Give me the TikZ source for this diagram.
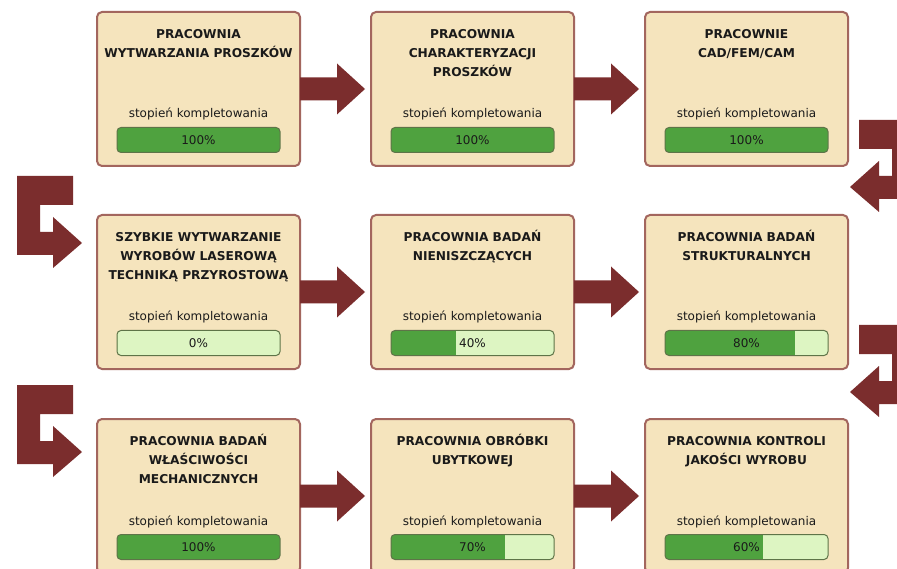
\documentclass[tikz,border=0pt]{standalone}
\usepackage{fontspec}
\setmainfont{DejaVu Sans}
\usetikzlibrary{calc}
\definecolor{boxfill}{HTML}{F5E4BD}
\definecolor{boxline}{HTML}{A3665E}
\definecolor{arrowc}{HTML}{7B2D2D}
\definecolor{barfg}{HTML}{4FA23F}
\definecolor{barbg}{HTML}{DDF5C2}
\definecolor{barline}{HTML}{5E7448}
\definecolor{txt}{HTML}{1A1A1A}
\tikzset{
  stationbox/.style={draw=boxline, line width=2pt, fill=boxfill, rounded corners=5pt,
    minimum width=203pt, minimum height=154pt, inner sep=0pt, outer sep=0pt},
  titletext/.style={anchor=north, align=center, inner sep=0pt, text=txt,
    font=\fontsize{12.2}{19}\selectfont\bfseries},
  captext/.style={anchor=base, inner sep=0pt, text=txt, font=\fontsize{12}{14}\selectfont},
  pcttext/.style={anchor=base, inner sep=0pt, text=txt, font=\fontsize{12}{14}\selectfont},
  barnode/.style={fill=barbg, draw=none, minimum width=163pt, minimum height=25pt,
    inner sep=0pt, outer sep=0pt, rounded corners=4pt},
  blockarrow/.style={fill=arrowc, draw=none}
}
% station: name, cx, top, title, fraction, percent text
\newcommand\station[6]{%
  \node[stationbox] (#1) at (#2,#3+77) {};
  \node[titletext] (#1title) at (#2,#3+14) {\rule{0pt}{12pt}#4};
  \node[captext] (#1cap) at (#2,#3+106) {stopień kompletowania};
  \node[barnode] (#1bar) at (#2,#3+128) {};
  \begin{scope}
    \clip[rounded corners=4pt] (#1bar.north west) rectangle (#1bar.south east);
    \fill[barfg] (#1bar.north west) rectangle ([xshift={#5*163pt}]#1bar.south west);
  \end{scope}
  \draw[barline, line width=1pt, rounded corners=4pt] (#1bar.north west) rectangle (#1bar.south east);
  \node[pcttext] (#1pct) at (#2,#3+132.5) {#6};
}
% straight block arrow from node a (east) to node b
\newcommand\harrow[2]{%
  \fill[blockarrow] ([shift={(0,-11.5)}]#1.east) -- ([shift={(37,-11.5)}]#1.east)
    -- ([shift={(37,-25.5)}]#1.east) -- ([shift={(65,0)}]#1.east)
    -- ([shift={(37,25.5)}]#1.east) -- ([shift={(37,11.5)}]#1.east)
    -- ([shift={(0,11.5)}]#1.east) -- cycle;
}
% bent arrow: coordinate name, outer x, top y, direction (1 right, -1 left)
\newcommand\bentarrow[4]{%
  \coordinate (#1) at (#2,#3);
  \fill[blockarrow, shift={(#1)}, xscale=#4]
    (0,0) -- (56,0) -- (56,29) -- (23,29) -- (23,56) -- (36,56) -- (36,41)
    -- (65,67) -- (36,92) -- (36,79) -- (0,79) -- cycle;
}
\begin{document}
\begin{tikzpicture}[x=1pt,y=-1pt]
\useasboundingbox (0,0) rectangle (897,569);
\clip (0,0) rectangle (897,569);
\fill[white] (0,0) rectangle (897,569);

% row 1
\station{s11}{198.5}{12}{PRACOWNIA\\WYTWARZANIA PROSZKÓW}{1}{100\%}
\station{s12}{472.5}{12}{PRACOWNIA\\CHARAKTERYZACJI\\PROSZKÓW}{1}{100\%}
\station{s13}{746.5}{12}{PRACOWNIE\\CAD/FEM/CAM}{1}{100\%}
% row 2
\station{s21}{198.5}{215}{SZYBKIE WYTWARZANIE\\WYROBÓW LASEROWĄ\\TECHNIKĄ PRZYROSTOWĄ}{0}{0\%}
\station{s22}{472.5}{215}{PRACOWNIA BADAŃ\\NIENISZCZĄCYCH}{0.4}{40\%}
\station{s23}{746.5}{215}{PRACOWNIA BADAŃ\\STRUKTURALNYCH}{0.8}{80\%}
% row 3
\station{s31}{198.5}{419}{PRACOWNIA BADAŃ\\WŁAŚCIWOŚCI\\MECHANICZNYCH}{1}{100\%}
\station{s32}{472.5}{419}{PRACOWNIA OBRÓBKI\\UBYTKOWEJ}{0.7}{70\%}
\station{s33}{746.5}{419}{PRACOWNIA KONTROLI\\JAKOŚCI WYROBU}{0.6}{60\%}

% straight arrows
\harrow{s11}{s12}
\harrow{s12}{s13}
\harrow{s21}{s22}
\harrow{s22}{s23}
\harrow{s31}{s32}
\harrow{s32}{s33}

% bent arrows
\bentarrow{r1}{915}{120}{-1}
\bentarrow{l1}{17}{176}{1}
\bentarrow{r2}{915}{325}{-1}
\bentarrow{l2}{17}{385}{1}
\end{tikzpicture}
\end{document}
